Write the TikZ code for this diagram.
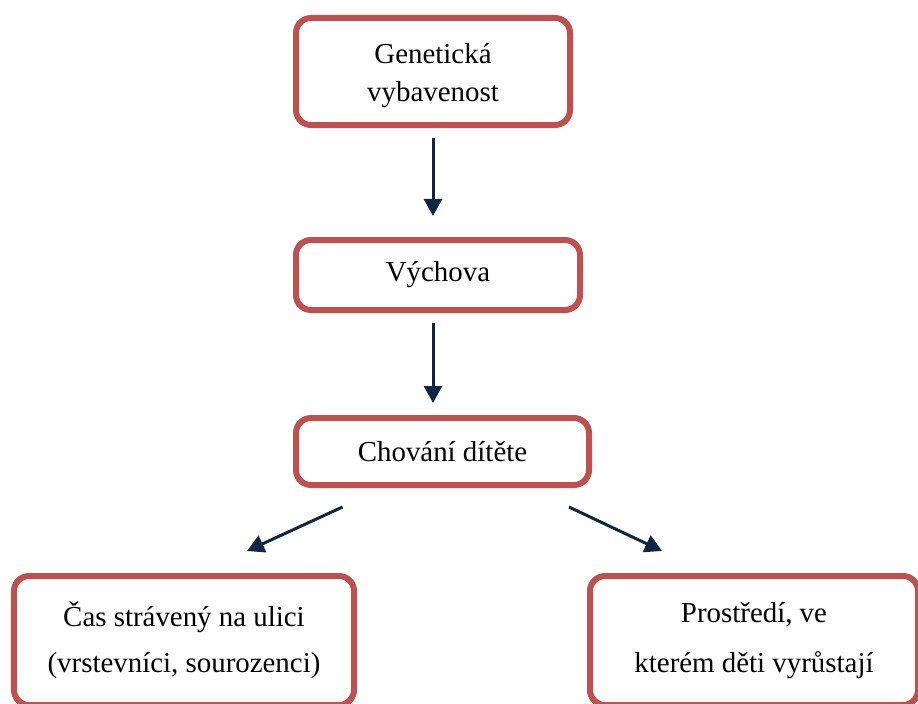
\documentclass[tikz,border=0pt]{standalone}
\usepackage{fontspec}
\setmainfont{Liberation Serif}
\usepackage{xcolor}
\usepackage{tikz}
\usetikzlibrary{arrows.meta}
\definecolor{boxred}{RGB}{192,80,77}
\definecolor{arrownavy}{RGB}{17,38,64}
\tikzset{
    red_box/.style = {draw=boxred, line width=6bp, rounded corners=15bp, fill=white,
                      align=center, inner sep=0pt, text centered, font=\fontsize{29}{38}\selectfont},
    flow_arrow/.style = {draw=arrownavy, line width=3bp, -{Triangle[width=18bp,length=17bp]}, arrownavy}
}
\begin{document}
\begin{tikzpicture}[x=1bp,y=1bp]
            \clip (0,0) rectangle (918,-704);
            \node [red_box, minimum width=274bp, minimum height=107bp] (gen) at (433,-71.5) {};
            \node [align=center, font=\fontsize{29}{38}\selectfont, inner sep=0pt] (gentext) at (433,-76) {Genetická\\vybavenost};
            \node [red_box, minimum width=284bp, minimum height=70bp] (vych) at (438,-275) {Výchova};
            \node [red_box, minimum width=293bp, minimum height=67bp] (chov) at (442.5,-451.5) {Chování dítěte};
            \node [red_box, minimum width=340bp, minimum height=129bp, font=\fontsize{29}{46}\selectfont] (ulice) at (184,-640.5)
                {Čas strávený na ulici\\(vrstevníci, sourozenci)};
            \node [red_box, minimum width=328bp, minimum height=129bp, font=\fontsize{29}{50}\selectfont] (prost) at (754,-640.5)
                {Prostředí, ve\\kterém děti vyrůstají};
            % sipky
            \draw [flow_arrow, shorten <=10bp, shorten >=21bp] (gen.south) -- (gen.south |- vych.north);
            \draw [flow_arrow, shorten <=10bp, shorten >=12bp] ([xshift=-5bp]vych.south) -- ([xshift=-5bp]vych.south |- chov.north);
            \draw [flow_arrow] ([shift={(-100,-19)}]chov.south) -- ([shift={(63,22)}]ulice.north);
            \draw [flow_arrow] ([shift={(126.5,-19)}]chov.south) -- ([shift={(-92,22)}]prost.north);
\end{tikzpicture}
\end{document}
